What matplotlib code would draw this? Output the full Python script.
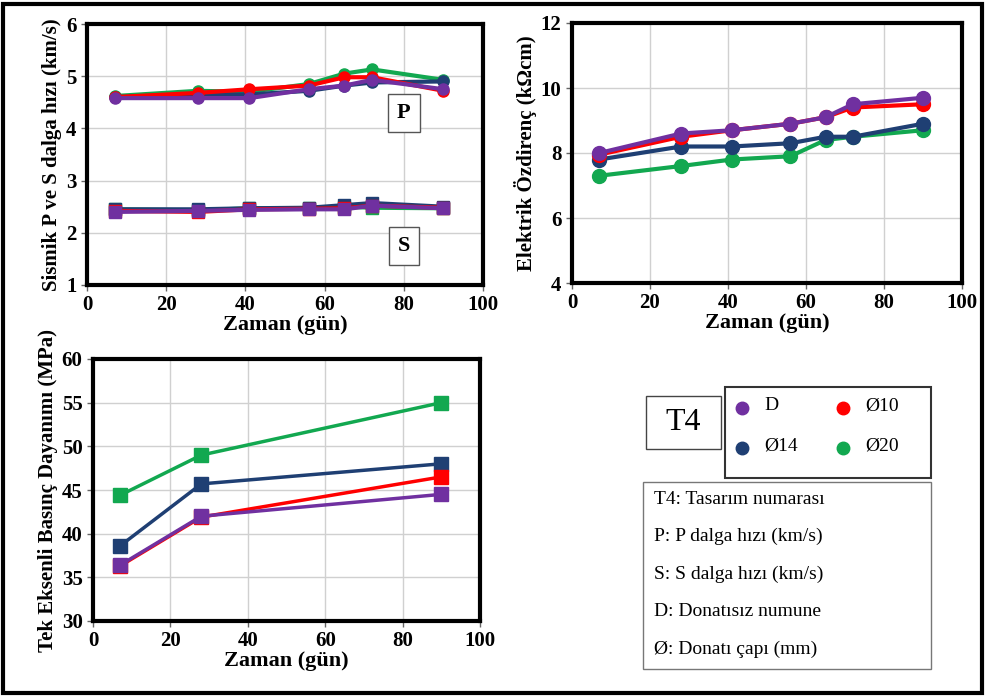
import matplotlib.pyplot as plt
from matplotlib.patches import Rectangle
from matplotlib.lines import Line2D

plt.rcParams['font.family'] = ['Liberation Serif', 'DejaVu Serif']

names = ['D', 'Ø10', 'Ø14', 'Ø20']
colors = {'D': '#7030A0', 'Ø10': '#FF0000', 'Ø14': '#1F3F73', 'Ø20': '#12A850'}
draw_order = ['Ø20', 'Ø14', 'Ø10', 'D']

# seismic wave velocity (km/s)
days_w = [7, 28, 41, 56, 65, 72, 90]
p_vel = {
    'D':   [4.58, 4.58, 4.58, 4.75, 4.82, 4.93, 4.75],
    'Ø10': [4.60, 4.68, 4.75, 4.82, 4.98, 4.98, 4.72],
    'Ø14': [4.60, 4.65, 4.65, 4.72, 4.82, 4.88, 4.90],
    'Ø20': [4.62, 4.72, 4.70, 4.85, 5.05, 5.13, 4.93],
}
s_vel = {
    'D':   [2.40, 2.42, 2.44, 2.45, 2.45, 2.52, 2.47],
    'Ø10': [2.42, 2.40, 2.45, 2.46, 2.47, 2.52, 2.48],
    'Ø14': [2.45, 2.45, 2.47, 2.48, 2.53, 2.57, 2.50],
    'Ø20': [2.45, 2.43, 2.47, 2.47, 2.50, 2.48, 2.47],
}

# electrical resistivity (kOhm cm)
days_r = [7, 28, 41, 56, 65, 72, 90]
resist = {
    'D':   [8.00, 8.60, 8.70, 8.90, 9.10, 9.50, 9.70],
    'Ø10': [7.95, 8.50, 8.70, 8.90, 9.10, 9.40, 9.50],
    'Ø14': [7.80, 8.20, 8.20, 8.30, 8.50, 8.50, 8.90],
    'Ø20': [7.30, 7.60, 7.80, 7.90, 8.40, 8.50, 8.70],
}

# uniaxial compressive strength (MPa)
days_c = [7, 28, 90]
ucs = {
    'D':   [36.4, 42.0, 44.5],
    'Ø10': [36.3, 41.9, 46.5],
    'Ø14': [38.6, 45.7, 48.0],
    'Ø20': [44.4, 49.0, 55.0],
}

W, H = 985, 700
fig = plt.figure(figsize=(9.85, 7.0), dpi=100)


def ax_at(l, t, r, b):
    return fig.add_axes([l / W, 1 - b / H, (r - l) / W, (b - t) / H])


def style(ax, ylim, yticks, ylabel):
    ax.set_xlim(0, 100)
    ax.set_ylim(*ylim)
    ax.set_xticks(range(0, 101, 20))
    ax.set_yticks(yticks)
    ax.grid(color='#d0d0d0', lw=1)
    ax.set_axisbelow(True)
    for s in ax.spines.values():
        s.set_linewidth(3)
        s.set_color('black')
    ax.tick_params(labelsize=15, width=1, length=4, color='#666666')
    for lab in ax.get_xticklabels() + ax.get_yticklabels():
        lab.set_fontweight('bold')
    ax.set_xlabel('Zaman (gün)', fontsize=16, fontweight='bold', labelpad=0)
    ax.set_ylabel(ylabel, fontsize=15, fontweight='bold', labelpad=3)


ax1 = ax_at(87, 24, 483, 285)
for n in draw_order:
    ax1.plot(days_w, p_vel[n], color=colors[n], lw=3, marker='o', ms=8)
for n in draw_order:
    ax1.plot(days_w, s_vel[n], color=colors[n], lw=3, marker='s', ms=8)
style(ax1, (1, 6), range(1, 7), 'Sismik P ve S dalga hızı (km/s)')
for txt, y in [('P', 4.3), ('S', 1.75)]:
    ax1.text(80, y, txt, fontsize=16, fontweight='bold', ha='center', va='center',
             bbox=dict(boxstyle='square,pad=0.4', fc='white', ec='#555555', lw=1))

ax2 = ax_at(572, 23, 962, 283)
for n in draw_order:
    ax2.plot(days_r, resist[n], color=colors[n], lw=3, marker='o', ms=10)
style(ax2, (4, 12), range(4, 13, 2), 'Elektrik Özdirenç (kΩcm)')

ax3 = ax_at(93, 359, 480, 621)
for n in draw_order:
    ax3.plot(days_c, ucs[n], color=colors[n], lw=2.5, marker='s', ms=10)
style(ax3, (30, 60), range(30, 61, 5), 'Tek Eksenli Basınç Dayanımı (MPa)')

# outer frame
fig.add_artist(Rectangle((3 / W, 1 - 693 / H), 979 / W, 689 / H, transform=fig.transFigure,
                         fill=False, ec='black', lw=3))

# T4 box
fig.add_artist(Rectangle((646 / W, 1 - 449 / H), 75 / W, 53 / H, transform=fig.transFigure,
                         fill=False, ec='#444444', lw=1))
fig.text(683.5 / W, 1 - 423 / H, 'T4', fontsize=23, ha='center', va='center')

# legend box
fig.add_artist(Rectangle((725 / W, 1 - 478 / H), 206 / W, 91 / H, transform=fig.transFigure,
                         fill=False, ec='#333333', lw=1.5))
leg_pos = {'D': (742, 408), 'Ø10': (843, 408), 'Ø14': (742, 448), 'Ø20': (843, 448)}
for n in names:
    x, y = leg_pos[n]
    fig.add_artist(Line2D([x / W], [1 - y / H], marker='o', ms=9, color=colors[n],
                          ls='none', transform=fig.transFigure))
    fig.text((x + 22) / W, 1 - (y - 2) / H, n, fontsize=14, va='center')

# notes box
fig.add_artist(Rectangle((643 / W, 1 - 669 / H), 288 / W, 187 / H, transform=fig.transFigure,
                         fill=False, ec='#777777', lw=1))
notes = ['T4: Tasarım numarası', 'P: P dalga hızı (km/s)', 'S: S dalga hızı (km/s)',
         'D: Donatısız numune', 'Ø: Donatı çapı (mm)']
for i, line in enumerate(notes):
    fig.text(654 / W, 1 - (499 + i * 37.5) / H, line, fontsize=14, va='center')

fig.savefig('out.png', dpi=100)
